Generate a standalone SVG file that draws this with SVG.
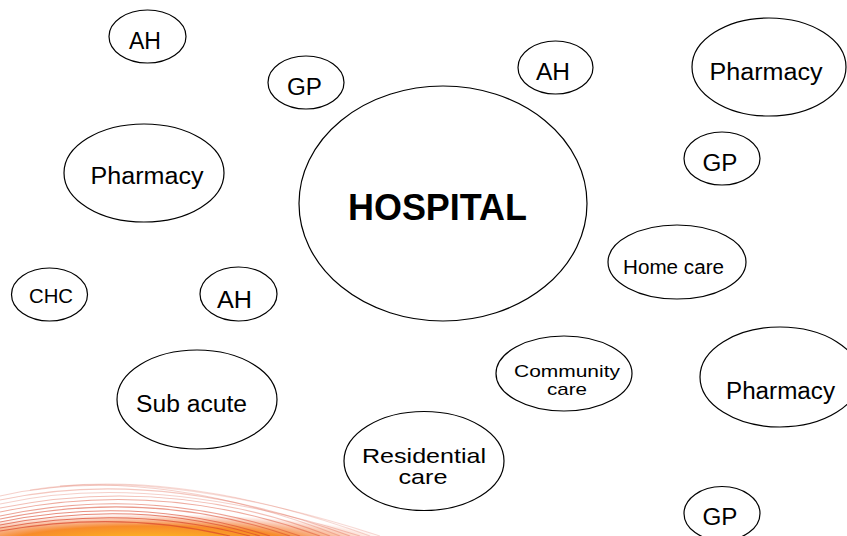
<svg xmlns="http://www.w3.org/2000/svg" width="847" height="536" viewBox="0 0 847 536">
<style>
.n ellipse{fill:none;stroke:#000;stroke-width:1.2}
.n text{font-family:"Liberation Sans",Arial,sans-serif;fill:#000;text-anchor:middle}
.sw path{fill:none;stroke:#d9452b;stroke-width:1.1}
</style>
<defs>
<radialGradient id="glow" cx="0.5" cy="0.5" r="0.5">
<stop offset="0" stop-color="#ffc81e" stop-opacity="1"/>
<stop offset="0.6" stop-color="#f7861f" stop-opacity="0.95"/>
<stop offset="1" stop-color="#f0603a" stop-opacity="0"/>
</radialGradient>
</defs>
<rect width="847" height="536" fill="#ffffff"/>
<g id="swoosh" class="sw">
<ellipse cx="150" cy="544" rx="240" ry="30" fill="url(#glow)"/>
<path d="M0 496 Q150 462 340 536" stroke-opacity="0.25"/>
<path d="M0 500 Q160 466 350 536" stroke-opacity="0.3"/>
<path d="M0 504 Q150 470 360 536" stroke-opacity="0.25"/>
<path d="M0 508 Q170 474 330 536" stroke-opacity="0.35"/>
<path d="M0 512 Q160 478 320 536" stroke-opacity="0.45"/>
<path d="M0 516 Q150 484 300 536" stroke-opacity="0.5"/>
<path d="M0 519 Q150 488 290 536" stroke-opacity="0.55"/>
<path d="M0 522 Q140 494 270 536" stroke-opacity="0.6"/>
<path d="M0 525 Q140 498 260 536" stroke-opacity="0.65"/>
<path d="M0 528 Q130 504 250 536" stroke-opacity="0.7"/>
<path d="M0 531 Q120 510 230 536" stroke-opacity="0.7"/>
<path d="M30 490 Q170 468 380 536" stroke-opacity="0.2"/>
<path d="M60 486 Q200 474 370 536" stroke-opacity="0.2"/>
</g>
<g id="connectors"></g>
<g id="hospital" class="n"><ellipse cx="443" cy="203.5" rx="144" ry="117.5"/><text x="437.5" y="220" font-size="36" font-weight="bold" textLength="179" lengthAdjust="spacingAndGlyphs">HOSPITAL</text></g>
<g id="ah1" class="n"><ellipse cx="147.5" cy="36.5" rx="38.5" ry="26.5"/><text x="145" y="49" font-size="23" textLength="32" lengthAdjust="spacingAndGlyphs">AH</text></g>
<g id="gp1" class="n"><ellipse cx="306" cy="82.5" rx="38" ry="26.5"/><text x="304.5" y="94.5" font-size="23" textLength="35" lengthAdjust="spacingAndGlyphs">GP</text></g>
<g id="ah2" class="n"><ellipse cx="555.5" cy="67.5" rx="37.5" ry="26.5"/><text x="553" y="80" font-size="23" textLength="34" lengthAdjust="spacingAndGlyphs">AH</text></g>
<g id="pharm1" class="n"><ellipse cx="769" cy="67" rx="77" ry="49"/><text x="766" y="80" font-size="23" textLength="113" lengthAdjust="spacingAndGlyphs">Pharmacy</text></g>
<g id="pharm2" class="n"><ellipse cx="144" cy="173" rx="80" ry="49"/><text x="147" y="184" font-size="23" textLength="113" lengthAdjust="spacingAndGlyphs">Pharmacy</text></g>
<g id="gp2" class="n"><ellipse cx="722" cy="158.5" rx="38" ry="26.5"/><text x="720" y="170.5" font-size="23" textLength="35" lengthAdjust="spacingAndGlyphs">GP</text></g>
<g id="home" class="n"><ellipse cx="677" cy="262" rx="69" ry="37"/><text x="673.5" y="274" font-size="20" textLength="101" lengthAdjust="spacingAndGlyphs">Home care</text></g>
<g id="chc" class="n"><ellipse cx="49.5" cy="294.5" rx="38" ry="26.5"/><text x="51" y="302.5" font-size="20" textLength="44" lengthAdjust="spacingAndGlyphs">CHC</text></g>
<g id="ah3" class="n"><ellipse cx="238.5" cy="294" rx="38.5" ry="27"/><text x="234.5" y="308" font-size="23" textLength="35" lengthAdjust="spacingAndGlyphs">AH</text></g>
<g id="community" class="n"><ellipse cx="564" cy="373.5" rx="68" ry="37.5"/><text x="567" y="377" font-size="17" textLength="106" lengthAdjust="spacingAndGlyphs">Community</text><text x="567" y="395" font-size="17" textLength="40" lengthAdjust="spacingAndGlyphs">care</text></g>
<g id="pharm3" class="n"><ellipse cx="780" cy="377" rx="80" ry="50"/><text x="780.5" y="399" font-size="23" textLength="109" lengthAdjust="spacingAndGlyphs">Pharmacy</text></g>
<g id="subacute" class="n"><ellipse cx="197" cy="399.5" rx="80" ry="49.5"/><text x="191.5" y="412" font-size="23" textLength="111" lengthAdjust="spacingAndGlyphs">Sub acute</text></g>
<g id="residential" class="n"><ellipse cx="424" cy="461" rx="80" ry="49.5"/><text x="424" y="463" font-size="21" textLength="124" lengthAdjust="spacingAndGlyphs">Residential</text><text x="423" y="484" font-size="21" textLength="49" lengthAdjust="spacingAndGlyphs">care</text></g>
<g id="gp3" class="n"><ellipse cx="722" cy="513.5" rx="38" ry="27"/><text x="720" y="525" font-size="23" textLength="35" lengthAdjust="spacingAndGlyphs">GP</text></g>
</svg>
